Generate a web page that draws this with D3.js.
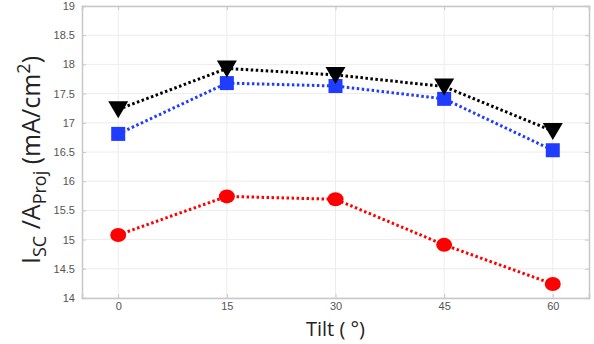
<!DOCTYPE html>
<html>
<head>
<meta charset="utf-8">
<script src="https://cdn.jsdelivr.net/npm/d3@7"></script>
<style>
  body { margin: 0; background: #fff; }
  svg { display: block; font-family: "Open Sans", sans-serif; }
  .tick text { fill: #555; font-size: 11px; }
</style>
</head>
<body>
<div id="chart"></div>
<script>
// tilt angles and short-circuit current per projected area
const tilts = [0, 15, 30, 45, 60];
const seriesBlack = [17.23, 17.93, 17.82, 17.62, 16.86];
const seriesBlue = [16.81, 17.68, 17.63, 17.41, 16.53];
const seriesRed = [15.08, 15.74, 15.69, 14.91, 14.24];
const yTicks = [14, 14.5, 15, 15.5, 16, 16.5, 17, 17.5, 18, 18.5, 19];

const width = 594, height = 344;
const margin = {top: 6, right: 5, bottom: 46, left: 82};

const svg = d3.select("#chart").append("svg")
    .attr("width", width)
    .attr("height", height);

const x = d3.scaleLinear().domain([-5, 65]).range([margin.left, width - margin.right]);
const y = d3.scaleLinear().domain([14, 19]).range([height - margin.bottom, margin.top]);

// grid
svg.append("g")
    .selectAll("line.gx")
    .data(tilts)
    .join("line")
    .attr("x1", d => x(d)).attr("x2", d => x(d))
    .attr("y1", y(14)).attr("y2", y(19))
    .attr("stroke", "#ececec").attr("stroke-width", 1);

svg.append("g")
    .selectAll("line.gy")
    .data(yTicks)
    .join("line")
    .attr("x1", x(-5)).attr("x2", x(65))
    .attr("y1", d => y(d)).attr("y2", d => y(d))
    .attr("stroke", "#ececec").attr("stroke-width", 1);

// axes
svg.append("g")
    .attr("transform", `translate(0,${y(14)})`)
    .call(d3.axisBottom(x).tickValues(tilts).tickSize(-4).tickPadding(4));
svg.append("g")
    .attr("transform", `translate(${x(-5)},0)`)
    .call(d3.axisLeft(y).tickValues(yTicks).tickSize(-4).tickPadding(7).tickFormat(d3.format("")));

// mirrored axes on top and right
svg.append("g")
    .attr("transform", `translate(0,${y(19)})`)
    .call(d3.axisTop(x).tickValues(tilts).tickSize(-4).tickFormat(""));
svg.append("g")
    .attr("transform", `translate(${x(65)},0)`)
    .call(d3.axisRight(y).tickValues(yTicks).tickSize(-4).tickFormat(""));

svg.selectAll(".domain").attr("stroke", "#c8c8c8").attr("stroke-width", 1.5);
svg.selectAll(".tick line").attr("stroke", "#c8c8c8");

// dotted series lines
const line = d3.line().x((d, i) => x(tilts[i])).y(d => y(d));

const series = [
  {values: seriesRed, color: "#ff0000", shape: "circle"},
  {values: seriesBlue, color: "#1f3cff", shape: "square"},
  {values: seriesBlack, color: "#000000", shape: "triangle"}
];

series.forEach(s => {
  svg.append("path")
      .datum(s.values)
      .attr("d", line)
      .attr("fill", "none")
      .attr("stroke", s.color)
      .attr("stroke-width", 3)
      .attr("stroke-dasharray", "2.5,2.5");
});

series.forEach(s => {
  const g = svg.append("g");
  if (s.shape === "circle") {
    g.selectAll("ellipse").data(s.values).join("ellipse")
        .attr("cx", (d, i) => x(tilts[i]))
        .attr("cy", d => y(d))
        .attr("rx", 8).attr("ry", 7)
        .attr("fill", s.color);
  } else if (s.shape === "square") {
    g.selectAll("rect").data(s.values).join("rect")
        .attr("x", (d, i) => x(tilts[i]) - 7)
        .attr("y", d => y(d) - 7)
        .attr("width", 14).attr("height", 14)
        .attr("fill", s.color);
  } else {
    g.selectAll("path").data(s.values).join("path")
        .attr("transform", (d, i) => `translate(${x(tilts[i])},${y(d)})`)
        .attr("d", "M-10,-8L10,-8L0,9Z")
        .attr("fill", s.color);
  }
});

// axis titles
svg.append("text")
    .attr("x", (x(-5) + x(65)) / 2)
    .attr("y", 336)
    .attr("text-anchor", "middle")
    .attr("font-size", 20)
    .attr("fill", "#222")
    .text("Tilt ( °)");

const yl = svg.append("text")
    .attr("transform", `translate(40,${(y(14) + y(19)) / 2 + 8}) rotate(-90)`)
    .attr("text-anchor", "middle")
    .attr("font-size", 25)
    .attr("fill", "#222");
yl.append("tspan").text("I");
yl.append("tspan").attr("font-size", 18).attr("dy", 6).text("SC");
yl.append("tspan").attr("dy", -6).text(" /A");
yl.append("tspan").attr("font-size", 18).attr("dy", 6).text("Proj");
yl.append("tspan").attr("dy", -6).text("  (mA/cm");
yl.append("tspan").attr("font-size", 18).attr("dy", -10).text("2");
yl.append("tspan").attr("dy", 10).text(")");
</script>
</body>
</html>
